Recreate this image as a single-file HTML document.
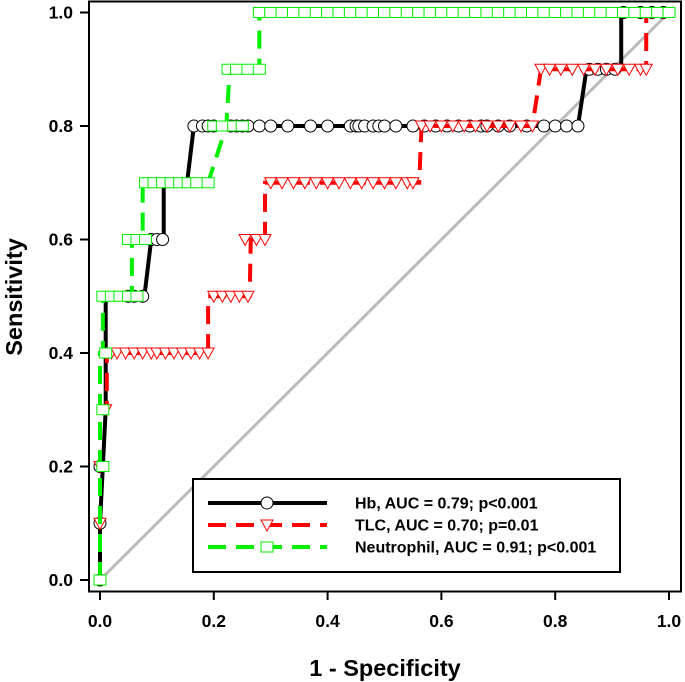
<!DOCTYPE html>
<html><head><meta charset="utf-8"><style>
body{margin:0;background:#fff;}
svg{display:block;font-family:"Liberation Sans",Arial,sans-serif;}
</style></head><body>
<svg id="chart" width="685" height="682"></svg>
<script>
// Data (fpr = 1 - specificity, tpr = sensitivity)
const xTicks = [0.0, 0.2, 0.4, 0.6, 0.8, 1.0];
const yTicks = [0.0, 0.2, 0.4, 0.6, 0.8, 1.0];
const hbFpr = [0,0,0.01,0.01,0.078,0.09,0.112,0.112,0.153,0.165,0.84,0.855,0.916,0.916,1.0];
const hbTpr = [0,0.1,0.3,0.5,0.5,0.6,0.6,0.7,0.7,0.8,0.8,0.9,0.9,1.0,1.0];
const hbMarkFpr = [0,0,0,0.05,0.06,0.075,0.09,0.1,0.11,0.165,0.18,0.19,0.2,0.23,0.24,0.25,0.26,0.28,0.3,0.33,0.37,0.4,0.44,0.45,0.455,0.465,0.48,0.49,0.5,0.52,0.55,0.57,0.59,0.61,0.63,0.65,0.67,0.68,0.7,0.72,0.75,0.78,0.8,0.82,0.84,0.86,0.875,0.89,0.905,0.92,0.95,0.97,0.99];
const hbTpr2 = [0,0.1,0.2,0.5,0.5,0.5,0.6,0.6,0.6,0.8,0.8,0.8,0.8,0.8,0.8,0.8,0.8,0.8,0.8,0.8,0.8,0.8,0.8,0.8,0.8,0.8,0.8,0.8,0.8,0.8,0.8,0.8,0.8,0.8,0.8,0.8,0.8,0.8,0.8,0.8,0.8,0.8,0.8,0.8,0.8,0.9,0.9,0.9,0.9,1.0,1.0,1.0,1.0];
const tlcFpr = [0,0,0.012,0.012,0.19,0.19,0.263,0.265,0.29,0.29,0.561,0.565,0.76,0.775,0.96,0.96,1.0];
const tlcTpr = [0,0.3,0.3,0.4,0.4,0.5,0.5,0.6,0.6,0.7,0.7,0.8,0.8,0.9,0.9,1.0,1.0];
const tlcMarkFpr = [0,0,0.01,0.02,0.03,0.045,0.06,0.075,0.09,0.1,0.115,0.13,0.145,0.16,0.175,0.19,0.2,0.215,0.23,0.245,0.26,0.255,0.275,0.29,0.3,0.32,0.34,0.36,0.38,0.4,0.42,0.44,0.46,0.48,0.5,0.52,0.54,0.55,0.565,0.58,0.6,0.62,0.64,0.66,0.68,0.7,0.72,0.74,0.76,0.775,0.79,0.81,0.83,0.85,0.87,0.89,0.91,0.93,0.95,0.96,0.97,0.99];
const tlcTpr2 = [0.1,0.2,0.3,0.4,0.4,0.4,0.4,0.4,0.4,0.4,0.4,0.4,0.4,0.4,0.4,0.4,0.5,0.5,0.5,0.5,0.5,0.6,0.6,0.6,0.7,0.7,0.7,0.7,0.7,0.7,0.7,0.7,0.7,0.7,0.7,0.7,0.7,0.7,0.8,0.8,0.8,0.8,0.8,0.8,0.8,0.8,0.8,0.8,0.8,0.9,0.9,0.9,0.9,0.9,0.9,0.9,0.9,0.9,0.9,0.9,1.0,1.0];
const neuFpr = [0,0,0.005,0.005,0.056,0.056,0.075,0.075,0.19,0.222,0.222,0.228,0.28,0.28,1.0];
const neuTpr = [0,0.4,0.4,0.5,0.5,0.6,0.6,0.7,0.7,0.8,0.8,0.9,0.9,1.0,1.0];
const neuMarkFpr = [0,0.005,0.005,0.01,0.005,0.02,0.035,0.05,0.065,0.05,0.065,0.08,0.08,0.095,0.11,0.125,0.14,0.155,0.17,0.19,0.2,0.215,0.235,0.25,0.225,0.24,0.26,0.28,0.28,0.3,0.32,0.34,0.36,0.38,0.4,0.42,0.44,0.46,0.48,0.5,0.52,0.54,0.56,0.58,0.6,0.62,0.64,0.66,0.68,0.7,0.72,0.74,0.76,0.78,0.8,0.82,0.84,0.86,0.88,0.9,0.92,0.94,0.96,0.98,1.0];
const neuTpr2 = [0,0.2,0.3,0.4,0.5,0.5,0.5,0.5,0.5,0.6,0.6,0.6,0.7,0.7,0.7,0.7,0.7,0.7,0.7,0.7,0.8,0.8,0.8,0.8,0.9,0.9,0.9,0.9,1,1,1,1,1,1,1,1,1,1,1,1,1,1,1,1,1,1,1,1,1,1,1,1,1,1,1,1,1,1,1,1,1,1,1,1,1];

const NS='http://www.w3.org/2000/svg';
const svg=document.getElementById('chart');
const X0=100,X1=669,Y0=580,Y1=12.5;
const sx=v=>X0+v*(X1-X0);
const sy=v=>Y0-v*(Y0-Y1);
function mk(tag,attrs,parent){const e=document.createElementNS(NS,tag);for(const k in attrs)e.setAttribute(k,attrs[k]);(parent||svg).appendChild(e);return e;}

const frame=mk('rect',{x:89,y:1.5,width:592,height:590,fill:'none',stroke:'#000','stroke-width':2});



xTicks.forEach(t=>{
  const l=mk('line',{x1:sx(t),x2:sx(t),y1:591,y2:600,stroke:'#000','stroke-width':2});
  
  
  const tx=mk('text',{x:sx(t),y:627,'text-anchor':'middle','font-size':17.5,'font-weight':'bold'});
  tx.textContent=t.toFixed(1);
  
  
});
yTicks.forEach(t=>{
  const l=mk('line',{x1:80,x2:89,y1:sy(t),y2:sy(t),stroke:'#000','stroke-width':2});
  
  
  const tx=mk('text',{x:73,y:sy(t)+6,'text-anchor':'end','font-size':17.5,'font-weight':'bold'});
  tx.textContent=t.toFixed(1);
  
  
});
const xl=mk('text',{x:385,y:676,'text-anchor':'middle','font-size':23.5,'font-weight':'bold'});
xl.textContent='1 - Specificity';


const yl=mk('text',{x:0,y:0,'text-anchor':'middle','font-size':23.5,'font-weight':'bold',transform:'translate(22,297) rotate(-90)'});
yl.textContent='Sensitivity';



const dg=mk('line',{x1:sx(0),y1:sy(0),x2:sx(1),y2:sy(1),stroke:'#bbb','stroke-width':3});



function pts(xs,ys){return xs.map((v,i)=>sx(v)+','+sy(ys[i])).join(' ');}
function marker(type,x,y,col,parent){
  let e;
  if(type==='c') e=mk('circle',{cx:x,cy:y,r:6,fill:'#fff',stroke:'#000','stroke-width':1},parent);
  else if(type==='t') e=mk('polygon',{points:`${x-6},${y-5} ${x+6},${y-5} ${x},${y+6}`,fill:'#fff',stroke:col,'stroke-width':1},parent);
  else e=mk('rect',{x:x-6,y:y-5,width:12,height:10,fill:'#fff',stroke:col,'stroke-width':1},parent);
  return e;
}
function series(name,fx,fy,mx,my,col,dash,type){
  const g=mk('g',{});
  
  
  const pl=mk('polyline',{points:pts(fx,fy),fill:'none',stroke:col,'stroke-width':4,'stroke-dasharray':dash||'none'},g);
  
  
  mx.forEach((v,i)=>{
    const m=marker(type,sx(v),sy(my[i]),col,g);
    
    
  });
}
series('hb',hbFpr,hbTpr,hbMarkFpr,hbTpr2,'#000',null,'c');
series('tlc',tlcFpr,tlcTpr,tlcMarkFpr,tlcTpr2,'#f00','18 10','t');
series('neutrophil',neuFpr,neuTpr,neuMarkFpr,neuTpr2,'#0e0','18 10','s');

const lg=mk('g',{});


mk('rect',{x:193,y:479,width:427,height:93,fill:'#fff',stroke:'#000','stroke-width':2},lg);
const entries=[['Hb, AUC = 0.79; p<0.001','#000',null,'c',503],['TLC, AUC = 0.70; p=0.01','#f00','18 10','t',525],['Neutrophil, AUC = 0.91; p<0.001','#0e0','18 10','s',547]];
entries.forEach(en=>{
  const g=mk('g',{},lg);
  
  
  mk('line',{x1:208,x2:327,y1:en[4],y2:en[4],stroke:en[1],'stroke-width':4,'stroke-dasharray':en[2]||'none'},g);
  marker(en[3],267,en[4],en[1],g);
  const t=mk('text',{x:355,y:en[4]+5.5,'font-size':16,'font-weight':'bold'},g);
  t.textContent=en[0];
});
</script>
</body></html>
